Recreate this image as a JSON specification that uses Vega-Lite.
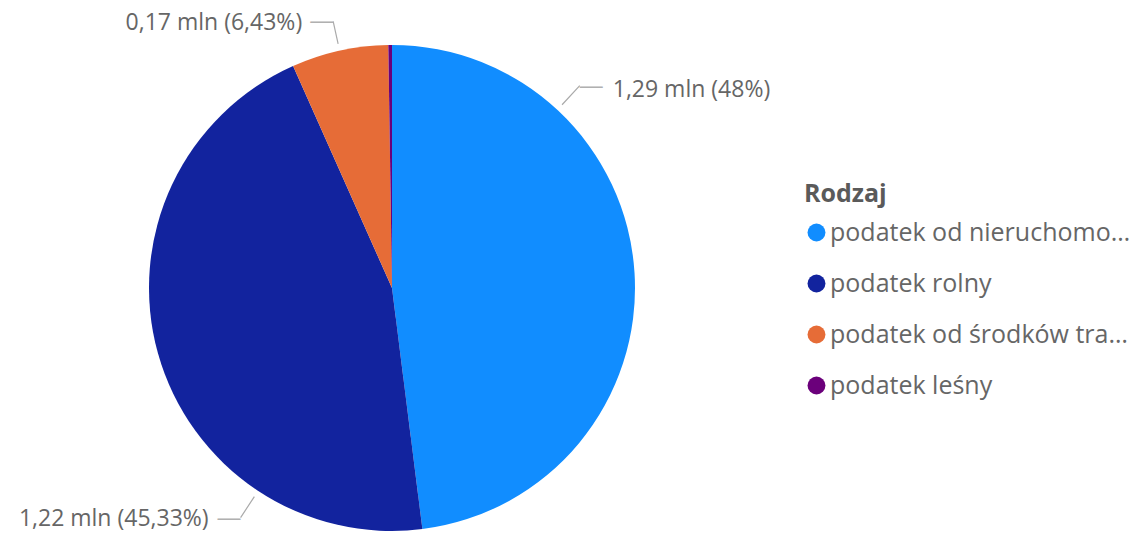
{
  "$schema": "https://vega.github.io/schema/vega-lite/v6.json",
  "width": 784,
  "height": 576,
  "padding": 0,
  "background": "white",
  "config": {"view": {"stroke": null}, "font": "Open Sans"},
  "data": {
    "values": [
      {"Rodzaj": "podatek od nieruchomości", "wartosc": 1.29, "etykieta": "1,29 mln (48%)", "nr": 1},
      {"Rodzaj": "podatek rolny", "wartosc": 1.218, "etykieta": "1,22 mln (45,33%)", "nr": 2},
      {"Rodzaj": "podatek od środków transportowych", "wartosc": 0.1728, "etykieta": "0,17 mln (6,43%)", "nr": 3},
      {"Rodzaj": "podatek leśny", "wartosc": 0.0065, "etykieta": "", "nr": 4}
    ]
  },
  "encoding": {
    "theta": {"field": "wartosc", "type": "quantitative", "stack": true},
    "order": {"field": "nr", "type": "quantitative"},
    "detail": {"field": "Rodzaj", "type": "nominal"}
  },
  "layer": [
    {
      "mark": {"type": "arc", "outerRadius": 243},
      "encoding": {
        "color": {
          "field": "Rodzaj",
          "type": "nominal",
          "scale": {
            "domain": ["podatek od nieruchomości", "podatek rolny", "podatek od środków transportowych", "podatek leśny"],
            "range": ["#118DFF", "#12239E", "#E66C37", "#6B007B"]
          },
          "legend": {
            "title": "Rodzaj",
            "orient": "none",
            "legendX": 804,
            "legendY": 182,
            "titleFont": "Open Sans",
            "titleFontSize": 25,
            "titleFontWeight": "bold",
            "titleColor": "#5a5a5a",
            "titlePadding": 13,
            "labelFont": "Open Sans",
            "labelFontSize": 25,
            "labelColor": "#666666",
            "labelLimit": 303,
            "labelOffset": 1,
            "symbolType": "circle",
            "symbolSize": 320,
            "symbolStrokeWidth": 0,
            "rowPadding": 25
          }
        }
      }
    },
    {
      "mark": {"type": "arc", "innerRadius": 250, "outerRadius": 276, "padAngle": 3.1416, "thetaOffset": -0.76, "theta2Offset": -0.76, "fill": null, "filled": false, "stroke": "#aaaaaa", "strokeWidth": 1.2},
      "encoding": {"strokeOpacity": {"condition": {"test": "datum.nr === 1", "value": 1}, "value": 0}}
    },
    {
      "mark": {"type": "arc", "innerRadius": 250, "outerRadius": 275, "padAngle": 3.1416, "thetaOffset": -0.7154, "theta2Offset": -0.7154, "fill": null, "filled": false, "stroke": "#aaaaaa", "strokeWidth": 1.2},
      "encoding": {"strokeOpacity": {"condition": {"test": "datum.nr === 2", "value": 1}, "value": 0}}
    },
    {
      "mark": {"type": "arc", "innerRadius": 250, "outerRadius": 273, "padAngle": 3.1416, "fill": null, "filled": false, "stroke": "#aaaaaa", "strokeWidth": 1.2},
      "encoding": {"strokeOpacity": {"condition": {"test": "datum.nr === 3", "value": 1}, "value": 0}}
    },
    {
      "mark": {"type": "text", "radius": 276, "thetaOffset": -0.76, "align": "left", "baseline": "middle", "font": "Liberation Sans", "fontSize": 23, "color": "#b0b0b0"},
      "encoding": {"text": {"condition": {"test": "datum.nr === 1", "value": "—"}, "value": ""}}
    },
    {
      "mark": {"type": "text", "radius": 275, "thetaOffset": -0.7154, "align": "right", "baseline": "middle", "font": "Liberation Sans", "fontSize": 23, "color": "#b0b0b0"},
      "encoding": {"text": {"condition": {"test": "datum.nr === 2", "value": "—"}, "value": ""}}
    },
    {
      "mark": {"type": "text", "radius": 273, "align": "right", "baseline": "middle", "font": "Liberation Sans", "fontSize": 23, "color": "#b0b0b0"},
      "encoding": {"text": {"condition": {"test": "datum.nr === 3", "value": "—"}, "value": ""}}
    },
    {
      "mark": {"type": "text", "radius": 276, "thetaOffset": -0.76, "align": "left", "baseline": "middle", "dx": 33, "dy": 4, "font": "Open Sans", "fontSize": 23, "color": "#666666"},
      "encoding": {"text": {"condition": {"test": "datum.nr === 1", "field": "etykieta", "type": "nominal"}, "value": ""}}
    },
    {
      "mark": {"type": "text", "radius": 275, "thetaOffset": -0.7154, "align": "right", "baseline": "middle", "dx": -32, "dy": 1, "font": "Open Sans", "fontSize": 23, "color": "#666666"},
      "encoding": {"text": {"condition": {"test": "datum.nr === 2", "field": "etykieta", "type": "nominal"}, "value": ""}}
    },
    {
      "mark": {"type": "text", "radius": 273, "align": "right", "baseline": "middle", "dx": -31, "dy": 2, "font": "Open Sans", "fontSize": 23, "color": "#666666"},
      "encoding": {"text": {"condition": {"test": "datum.nr === 3", "field": "etykieta", "type": "nominal"}, "value": ""}}
    }
  ]
}
